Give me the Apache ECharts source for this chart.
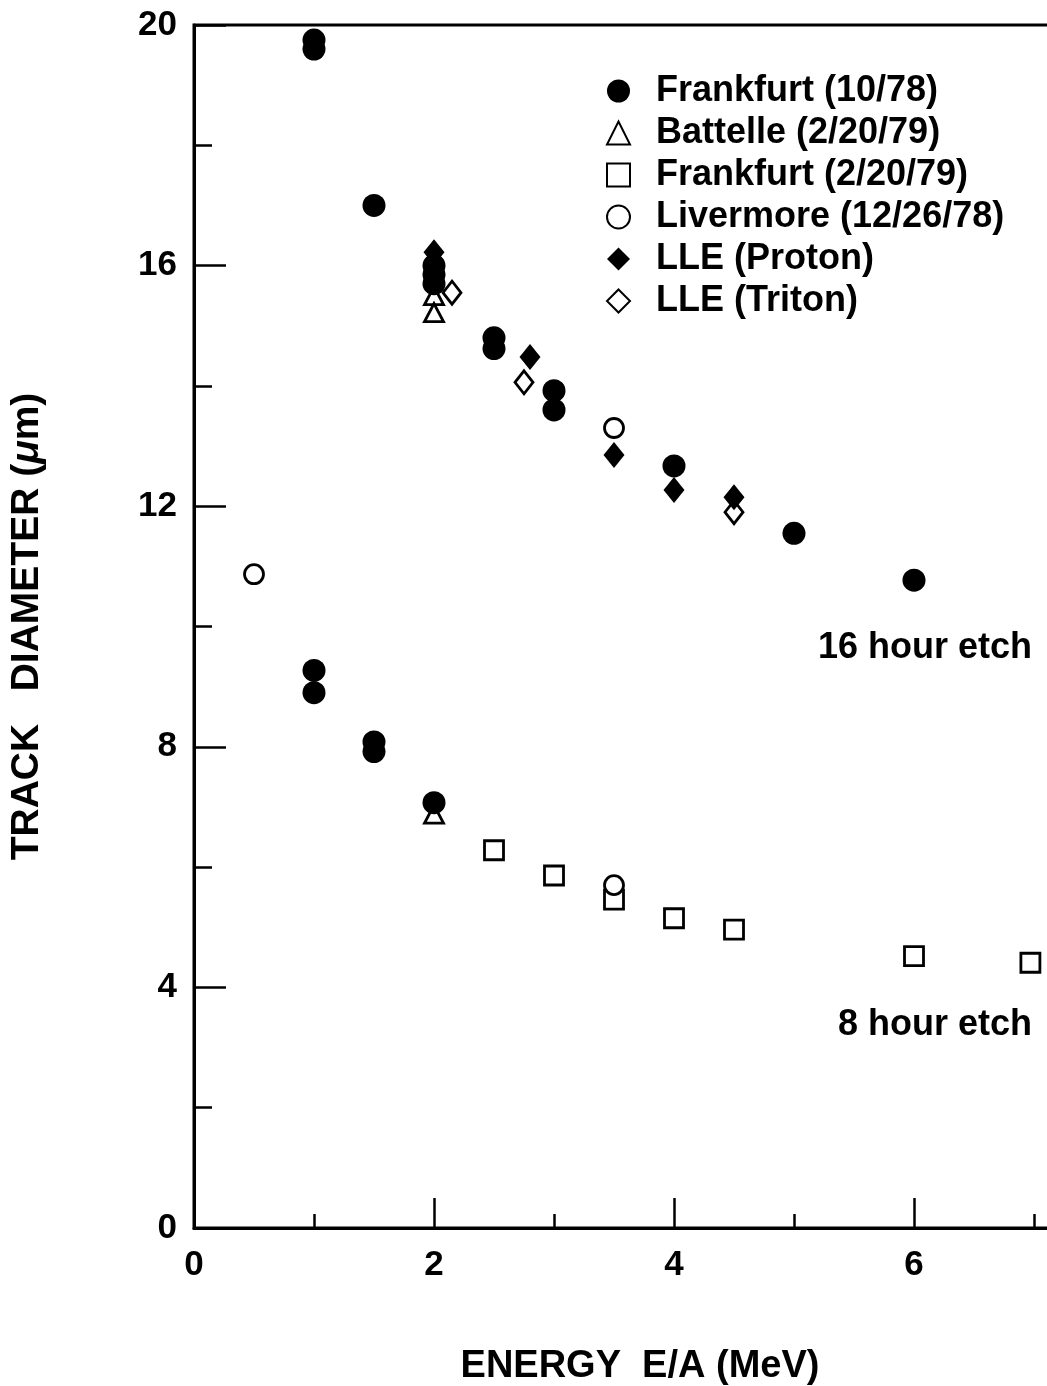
<!DOCTYPE html>
<html>
<head>
<meta charset="utf-8">
<script src="https://cdn.jsdelivr.net/npm/echarts@6/dist/echarts.min.js"></script>
<style>
  html, body { margin: 0; padding: 0; background: #fff; }
  #chart { width: 1047px; height: 1386px; }
</style>
</head>
<body>
<div id="chart"></div>
<script>
// Track diameter versus energy per nucleon, 16 h and 8 h etch
const frankfurt1078 = [
  [1, 19.75], [1, 19.6], [1.5, 17.0], [2, 16.0], [2, 15.85], [2, 15.7],
  [2.5, 14.8], [2.5, 14.62], [3, 13.92], [3, 13.6], [4, 12.67], [5, 11.55], [6, 10.77],
  [1, 9.27], [1, 8.9], [1.5, 8.08], [1.5, 7.92], [2, 7.07]
];
const battelle = [[2, 15.5], [2, 15.22], [2, 6.88]];
const frankfurt22079 = [
  [2.5, 6.28], [3, 5.86], [3.5, 5.46], [4, 5.15], [4.5, 4.96], [6, 4.52], [6.97, 4.41]
];
const livermore = [[0.5, 10.87], [3.5, 13.3], [3.5, 5.7]];
const lleProton = [[2, 16.22], [2.8, 14.48], [3.5, 12.85], [4, 12.27], [4.5, 12.15]];
const lleTriton = [[2.15, 15.55], [2.75, 14.06], [4.5, 11.9]];

const legendNames = [
  'Frankfurt (10/78)', 'Battelle (2/20/79)', 'Frankfurt (2/20/79)',
  'Livermore (12/26/78)', 'LLE (Proton)', 'LLE (Triton)'
];
const xTickLabels = ['0', '2', '4', '6'];
const yTickLabels = ['0', '4', '8', '12', '16', '20'];
const etchLabels = ['16 hour etch', '8 hour etch'];

const FONT = '"Liberation Sans", Arial, Helvetica, sans-serif';
const INK = '#000';

const chart = echarts.init(document.getElementById('chart'), null, { renderer: 'canvas' });

const openStyle = { color: '#fff', borderColor: INK, borderWidth: 2.8, opacity: 1 };
const solidStyle = { color: INK, borderColor: INK, borderWidth: 0, opacity: 1 };

const xCommon = { type: 'value', min: 0, max: 7.15, gridIndex: 0, position: 'bottom', splitLine: { show: false } };
const yCommon = { type: 'value', min: 0, max: 20, gridIndex: 0, position: 'left', splitLine: { show: false } };

const option = {
  animation: false,
  backgroundColor: '#fff',
  grid: {
    left: 194, top: 25, width: 858, height: 1203,
    outerBoundsMode: 'none',
    containLabel: false,
    show: true, borderColor: INK, borderWidth: 3, backgroundColor: 'transparent'
  },
  xAxis: [
    Object.assign({}, xCommon, {
      interval: 2,
      axisLine: { show: true, onZero: false, lineStyle: { color: INK, width: 3 } },
      axisTick: { show: true, inside: true, length: 30, lineStyle: { color: INK, width: 2.5 } },
      axisLabel: {
        show: true, margin: 20, showMaxLabel: false,
        color: INK, fontFamily: FONT, fontWeight: 'bold', fontSize: 35,
        formatter: v => (xTickLabels.indexOf(String(v)) >= 0 ? String(v) : '')
      },
      name: 'ENERGY  E/A (MeV)',
      nameLocation: 'middle',
      nameGap: 120,
      nameTextStyle: { color: INK, fontFamily: FONT, fontWeight: 'bold', fontSize: 38, padding: [0, 0, 0, 34] }
    }),
    Object.assign({}, xCommon, {
      interval: 1,
      axisLine: { show: false },
      axisTick: { show: true, inside: true, length: 14, lineStyle: { color: INK, width: 2.5 } },
      axisLabel: { show: false }
    })
  ],
  yAxis: [
    Object.assign({}, yCommon, {
      interval: 4,
      axisLine: { show: true, onZero: false, lineStyle: { color: INK, width: 3 } },
      axisTick: { show: true, inside: true, length: 32, lineStyle: { color: INK, width: 2.5 } },
      axisLabel: {
        show: true, margin: 17,
        color: INK, fontFamily: FONT, fontWeight: 'bold', fontSize: 35,
        formatter: v => (yTickLabels.indexOf(String(v)) >= 0 ? String(v) : '')
      },
      name: 'TRACK   DIAMETER ({mu|μ}m)',
      nameLocation: 'middle',
      nameGap: 147,
      nameTextStyle: {
        color: INK, fontFamily: FONT, fontWeight: 'bold', fontSize: 39,
        rich: { mu: { color: INK, fontFamily: FONT, fontWeight: 'bold', fontStyle: 'italic', fontSize: 39 } }
      }
    }),
    Object.assign({}, yCommon, {
      interval: 2,
      axisLine: { show: false },
      axisTick: { show: true, inside: true, length: 18, lineStyle: { color: INK, width: 2.5 } },
      axisLabel: { show: false }
    })
  ],
  legend: {
    orient: 'vertical',
    left: 606,
    top: 70,
    padding: 0,
    itemGap: 0,
    itemWidth: 23,
    itemHeight: 23,
    selectedMode: false,
    data: legendNames,
    textStyle: {
      color: INK, fontFamily: FONT, fontWeight: 'bold', fontSize: 36,
      lineHeight: 42, padding: [0, 0, 0, 21]
    }
  },
  series: [
    {
      name: legendNames[1], type: 'scatter', data: battelle,
      symbol: 'triangle', symbolSize: [19, 18], itemStyle: openStyle
    },
    {
      name: legendNames[2], type: 'scatter', data: frankfurt22079,
      symbol: 'rect', symbolSize: 19, itemStyle: openStyle
    },
    {
      name: legendNames[0], type: 'scatter', data: frankfurt1078,
      symbol: 'circle', symbolSize: 23, itemStyle: solidStyle
    },
    {
      name: legendNames[3], type: 'scatter', data: livermore,
      symbol: 'circle', symbolSize: 19, itemStyle: openStyle
    },
    {
      name: legendNames[5], type: 'scatter', data: lleTriton,
      symbol: 'diamond', symbolSize: [18, 23], itemStyle: openStyle
    },
    {
      name: legendNames[4], type: 'scatter', data: lleProton,
      symbol: 'diamond', symbolSize: [21, 26], itemStyle: solidStyle
    }
  ],
  graphic: [
    {
      type: 'text', right: 15, top: 630,
      style: { text: etchLabels[0], fill: INK, font: 'bold 36px ' + FONT }
    },
    {
      type: 'text', right: 15, top: 1007,
      style: { text: etchLabels[1], fill: INK, font: 'bold 36px ' + FONT }
    }
  ]
};

chart.setOption(option);
</script>
</body>
</html>
